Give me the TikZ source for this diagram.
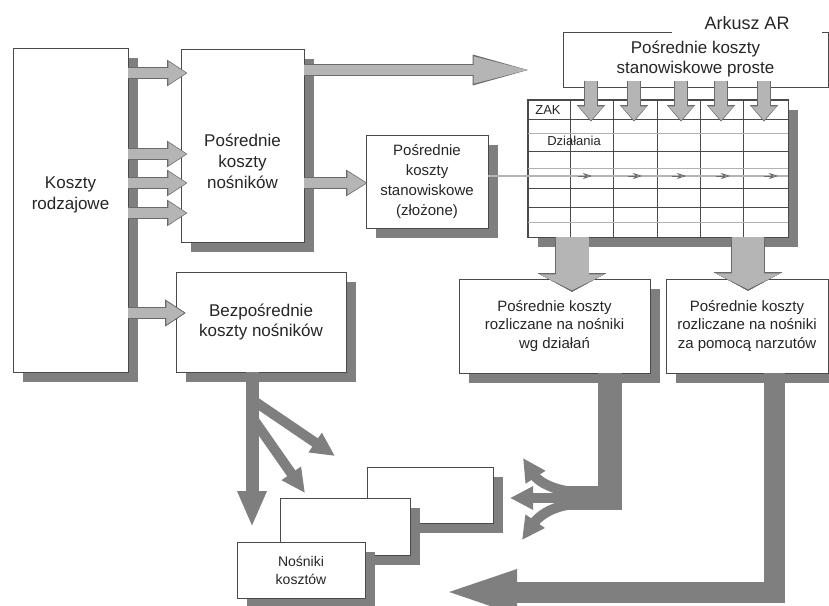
\documentclass[tikz,border=0pt]{standalone}
\usepackage{fontspec}
\setmainfont{Liberation Sans}
\usetikzlibrary{arrows.meta,shadows,calc}
\definecolor{shadowgray}{HTML}{7F7F7F}
\definecolor{arrowfill}{HTML}{B5B5B5}
\definecolor{arrowedge}{HTML}{6A6A6A}
\definecolor{boxline}{HTML}{4A4A4A}
\definecolor{textgray}{HTML}{262626}
\tikzset{
  box/.style={draw=boxline, line width=0.8pt, fill=white, inner sep=0pt, align=center, text=textgray},
  shbox/.style={box, drop shadow={shadow xshift=10pt, shadow yshift=-10pt, fill=shadowgray, opacity=1}},
  bigtxt/.style={font=\fontsize{17}{21}\selectfont},
  midtxt/.style={font=\fontsize{15}{18.5}\selectfont},
  smalltxt/.style={font=\fontsize{13}{16}\selectfont},
  gridline/.style={draw=boxline, line width=0.8pt},
  faintline/.style={draw=black!30, line width=0.8pt},
  darkarrow/.style={draw=shadowgray, line join=miter},
}
% light block arrow: shaft, tip width, tip length, path
\newcommand\litearrow[4]{%
  \pgfmathsetlengthmacro\litelw{#1+1.6pt}%
  \pgfmathsetlengthmacro\litetw{#2+3pt}%
  \pgfmathsetlengthmacro\litetl{#3+2.4pt}%
  \draw[draw=arrowedge, line width=\litelw, -{Triangle[width=\litetw, length=\litetl]}] #4;
  \draw[draw=arrowfill, line width=#1, -{Triangle[width=#2, length=#3]}, shorten >=1.3pt] #4;}
\begin{document}
\begin{tikzpicture}[x=1pt,y=-1pt]
  \useasboundingbox (0,0) rectangle (829,605);
  \fill[white] (0,0) rectangle (829,605);
  % boxes
  \node[shbox, minimum width=115pt, minimum height=324pt] (rod) at (70.5,210) {};
  \node[bigtxt, align=center, text=textgray] (rodtxt) at ([yshift=15pt]rod.center) {Koszty\\rodzajowe};
  \node[shbox, minimum width=123pt, minimum height=193pt] (nos) at (242.5,145.5) {};
  \node[bigtxt, align=center, text=textgray] (nostxt) at ([yshift=-16pt]nos.center) {Pośrednie\\koszty\\nośników};
  \node[shbox, bigtxt, font=\fontsize{17}{20}\selectfont, minimum width=170pt, minimum height=100pt] (bez) at (261,322) {Bezpośrednie\\koszty nośników};
  \node[shbox, midtxt, font=\fontsize{15}{20}\selectfont, minimum width=122pt, minimum height=93pt] (zlo) at (427,181.5) {Pośrednie\\koszty\\stanowiskowe\\(złożone)};
  \node[box, bigtxt, font=\fontsize{17}{20}\selectfont, minimum width=265pt, minimum height=55pt] (pro) at (695.5,59.5) {Pośrednie koszty\\stanowiskowe proste};
  \node[fill=white, font=\fontsize{18}{20}\selectfont, text=textgray, minimum width=150pt, minimum height=22pt, inner sep=0pt] (ark) at (747,23) {Arkusz AR};
  \node[shbox, minimum width=260pt, minimum height=137pt] (tab) at (658,168.5) {};
  \node[shbox, midtxt, minimum width=191pt, minimum height=94pt] (dz) at (554.5,326) {Pośrednie koszty\\rozliczane na nośniki\\wg działań};
  \node[shbox, midtxt, minimum width=162pt, minimum height=94pt] (nar) at (747,326) {Pośrednie koszty\\rozliczane na nośniki\\za pomocą narzutów};
  \node[shbox, minimum width=126pt, minimum height=56pt] (nk3) at (430,495) {};
  \node[shbox, minimum width=130pt, minimum height=57pt] (nk2) at (345,526.5) {};
  \node[shbox, font=\fontsize{14}{18}\selectfont, minimum width=128pt, minimum height=56pt] (nk1) at (301,570) {Nośniki\\kosztów};
  % table
  \foreach \xc in {570,613,657,700,743}
    \draw[gridline] (tab.north -| \xc,0) -- (tab.south -| \xc,0);
  \foreach \yr in {119,151,188,207}
    \draw[gridline] (tab.west |- 0,\yr) -- (tab.east |- 0,\yr);
  \foreach \yr in {133,168,222}
    \draw[faintline] (tab.west |- 0,\yr) -- (tab.east |- 0,\yr);
  \draw[gridline] (tab.north west) rectangle (tab.south east);
  \node[smalltxt, text=textgray] (zak) at (548,110) {ZAK};
  \node[smalltxt, text=textgray] (dzi) at (574,141) {Działania};
  % light arrows
  \foreach \ya in {73,154,183,213}
    \litearrow{10pt}{22pt}{18pt}{(rod.east |- 0,\ya) -- ($(nos.west |- 0,\ya)+(7,0)$)}
  \litearrow{10pt}{22pt}{18pt}{(rod.east |- 0,313) -- ($(bez.west |- 0,313)+(10,0)$)}
  \coordinate (arin) at (533,70);
  \litearrow{10pt}{24pt}{58pt}{(nos.east |- arin) -- (arin)}
  \litearrow{10pt}{22pt}{19pt}{(nos.east |- 0,183) -- ($(zlo.west |- 0,183)+(2,0)$)}
  \foreach \xd in {591,634,681,721,764}
    \litearrow{12pt}{24pt}{14pt}{($(pro.south -| \xd,0)+(0,-6)$) -- ($(tab.north -| \xd,0)+(0,22)$)}
  \litearrow{33pt}{64pt}{16pt}{(tab.south -| 572,0) -- ($(dz.north -| 572,0)+(0,13)$)}
  \litearrow{32pt}{64pt}{16pt}{(tab.south -| 748,0) -- ($(nar.north -| 748,0)+(0,12)$)}
  % thin line through the table
  \draw[draw=arrowedge, line width=2.6pt] (zlo.east |- 0,176) -- (tab.east |- 0,176);
  \draw[draw=arrowfill, line width=1.2pt] (zlo.east |- 0,176) -- (tab.east |- 0,176);
  \foreach \xt in {592,642,686,730,778}
    \draw[draw=arrowedge, line width=0.8pt, -{Stealth[open, width=6pt, length=9pt]}] (\xt-14,176) -- (\xt,176);
  % dark arrows
  \draw[darkarrow, line width=13pt, -{Triangle[width=27pt,length=36pt]}] (bez.south -| 252,0) -- (252,527);
  \draw[darkarrow, line width=10pt, -{Triangle[width=22pt,length=24pt]}] (254,401) -- (335,456);
  \draw[darkarrow, line width=10pt, -{Triangle[width=22pt,length=24pt]}] (254,420) -- (305,493);
  \draw[darkarrow, line width=24pt] (dz.south -| 610,0) -- (610,498) -- (566,498);
  \draw[darkarrow, line width=10pt, -{Triangle[width=22pt,length=23pt]}] (575,498) -- (510,498);
  \draw[darkarrow, line width=10pt, -{Triangle[width=22pt,length=23pt]}] (575,492) .. controls (548,490) and (536,478) .. (523,458);
  \draw[darkarrow, line width=10pt, -{Triangle[width=22pt,length=23pt]}] (575,504) .. controls (548,506) and (536,520) .. (522,540);
  \draw[darkarrow, line width=21pt, -{Triangle[width=38pt,length=80pt]}] (nar.south -| 774,0) -- (774,592) -- (437,592);
\end{tikzpicture}
\end{document}
